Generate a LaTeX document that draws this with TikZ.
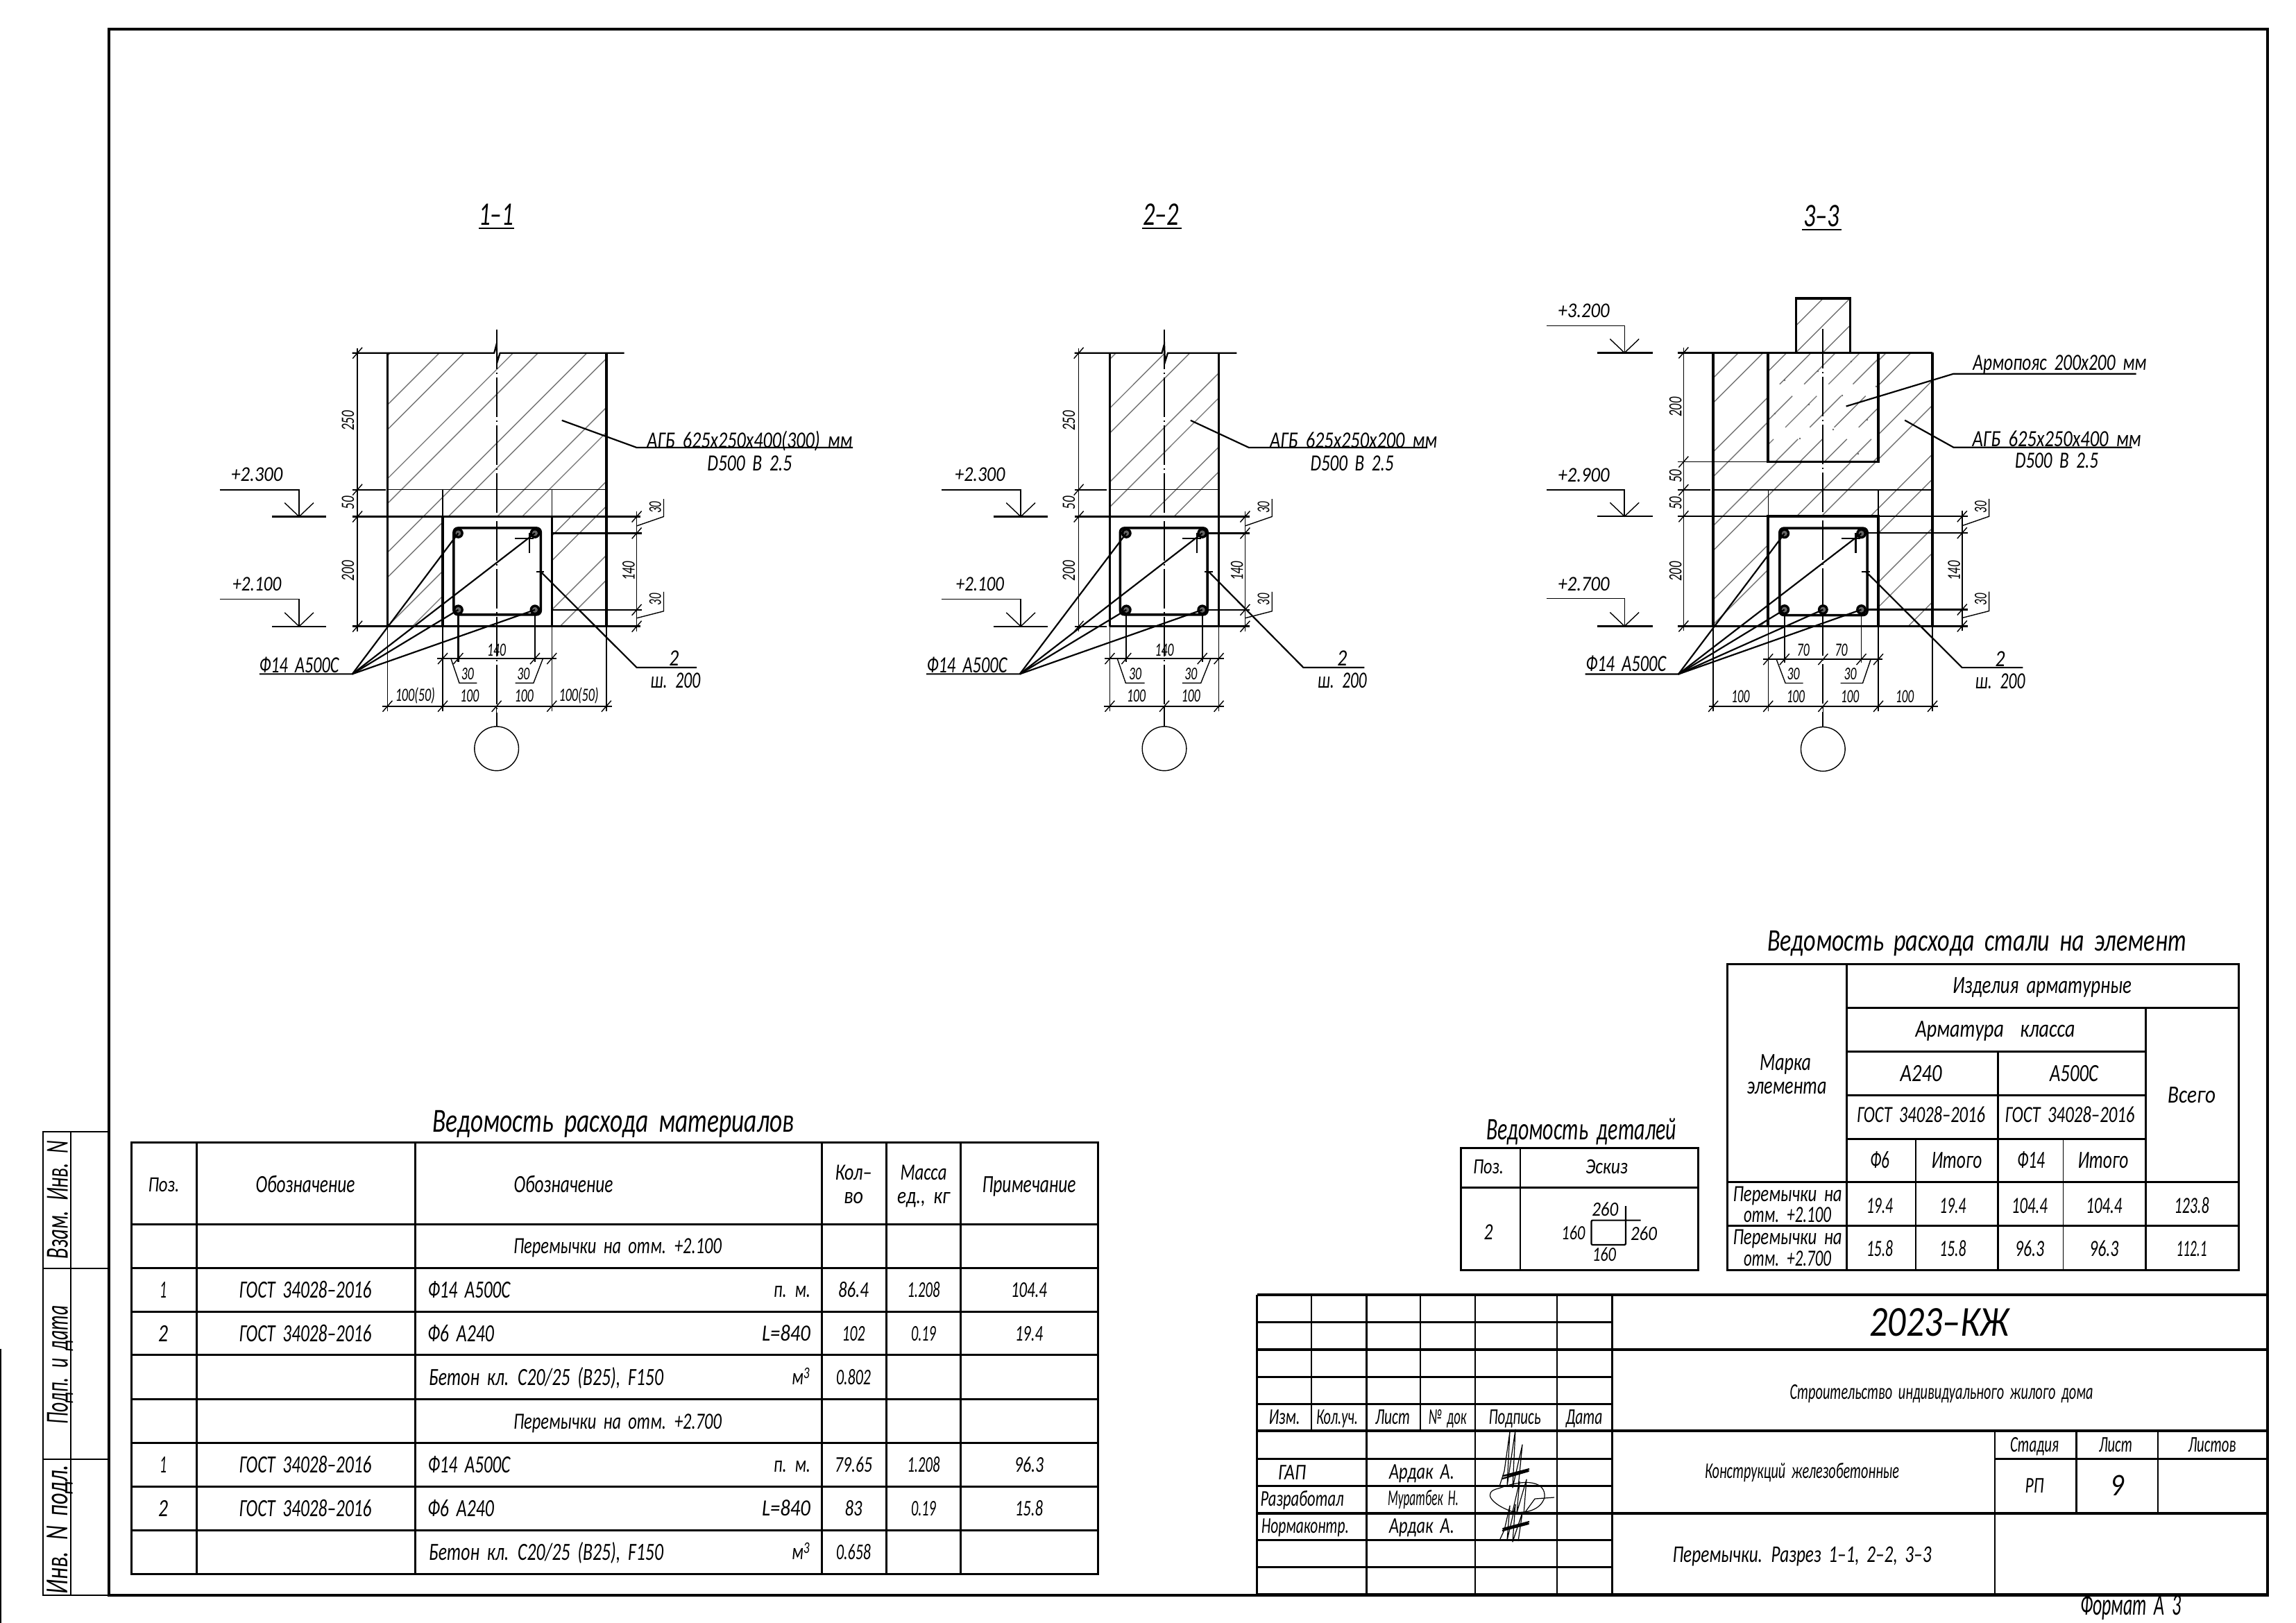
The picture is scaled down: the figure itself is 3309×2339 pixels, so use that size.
\documentclass[tikz,border=0pt]{standalone}
\usepackage{fontspec}
\usepackage{graphicx}
\setmainfont{Carlito}
\newsavebox\tbx
\newcounter{tnn}
\newcommand\mkfit[3]{\pgfmathsetmacro\fsz{#1*1.08}\sbox\tbx{\fontsize{\fsz}{\fsz}\selectfont\itshape\spaceskip=.42em\relax #3}\pgfmathsetmacro\fr{#2/\the\wd\tbx}\scalebox{\fr}[1]{\usebox\tbx}}
\newcommand\tw[5]{\stepcounter{tnn}\node[anchor=base,inner sep=0pt] (t\arabic{tnn}) at ({#1},{#2+0.34*#3}) {\mkfit{#3}{#4}{#5}};}
\newcommand\tr[5]{\stepcounter{tnn}\node[anchor=base,rotate=90,inner sep=0pt] (t\arabic{tnn}) at ({#1+0.34*#3},{#2}) {\mkfit{#3}{#4}{#5}};}
\tikzset{
 th/.style={line width=3.5pt},
 md/.style={line width=2.2pt},
 tn/.style={line width=1.4pt},
 tbl/.style={line width=3pt},
 tbs/.style={line width=1.8pt},
 hatchln/.style={line width=1.4pt,color=black!55},
 hatchbr/.style={line width=1.4pt,color=black!55,dash pattern=on 64pt off 24pt},
 cl/.style={line width=2pt,dash pattern=on 57pt off 5pt on 2pt off 5pt},
 sig/.style={line width=1.2pt,line join=round}
}
\newcommand\tk[2]{\draw[tn] ({#1-7},{#2+8})--({#1+7},{#2-8});}
% hatch in pairs, 45 degrees: ytop, ybot, x reference at ytop
\newcommand\hatchin[3]{\foreach \i in {-9,...,9}{\draw[hatchln] ({#3+107*\i},#1)--({#3+107*\i-(#2-#1)},#2);\draw[hatchln] ({#3+36+107*\i},#1)--({#3+36+107*\i-(#2-#1)},#2);}}
% regular hatch: style ytop ybot xref spacing
\newcommand\hatchreg[5]{\foreach \i in {-12,...,12}{\draw[#1] ({#4+#5*\i},#2)--({#4+#5*\i-(#3-#2)},#3);}}
% level mark: xl xr xbl xbr ytop ybot style
\newcommand\lev[7]{\draw[#7] (#1,#5)--(#2,#5)--(#2,#6);\draw[md] (#3,#6)--(#4,#6);\draw[tn] ({#2-21},{#6-20})--(#2,#6)--({#2+21},{#6-20});}
\newcommand\reb[2]{\fill[black] (#1,#2) circle (7.5);\fill[black!60] (#1,#2) circle (4);}
% right dimension group: xd xs xe
\newcommand\rdim[3]{\draw[tn] (#1,738)--(#1,912);\foreach \yy in {746,770,881,905}{\tk{#1}{\yy}}
 \draw[md] (#2,770)--(#3,770);\draw[md] (#2,881)--(#3,881);
 \draw[tn] (#1,759.5)--({#1+39},746)--({#1+39},720.5);\draw[tn] (#1,893)--({#1+39},883)--({#1+39},855);
 \tr{#1+27}{732.6}{24}{17}{30}\tr{#1+27}{866}{24}{17}{30}\tr{#1-11.5}{824.6}{25}{28}{140}}
% stirrup: xl xr yt yb rx2
\newcommand\stir[5]{\draw[th,rounded corners=6pt] (#1,#3) rectangle (#2,#4);
 \draw[md] ({#5-29},778)--({#5-2},778);\draw[md] ({#5-8},770)--({#5-8},799);}
\begin{document}
\begin{tikzpicture}[x=1pt,y=-1pt]
\useasboundingbox (0,0) rectangle (3309,2339);
\fill[white] (0,0) rectangle (3309,2339);
% frame
\draw[th] (157,42) rectangle (3268,2299);
\draw[tn] (1,1944)--(1,2339);
\draw[md] (157,1631)--(62,1631)--(62,2299)--(157,2299);
\draw[tn] (102,1631)--(102,2299);
\draw[md] (62,1828)--(157,1828);
\draw[tn] (62,2103)--(157,2103);
\tr{83}{1729}{43}{171}{Взам. Инв. N}
\tr{83}{1967}{43}{171}{Подп. и дата}
\tr{83}{2204}{43}{186}{Инв. N подл.}
% titles
\tw{715}{310}{44}{50}{1--1}\draw[md] (690,329)--(741,329);
\tw{1673}{310}{44}{52}{2--2}\draw[md] (1646,329)--(1703,329);
\tw{2625}{312}{44}{52}{3--3}\draw[md] (2597,331)--(2654,331);

%% SECTION 1
\begin{scope}[x=.995pt,y=-.995pt,xshift=1.25pt,yshift=-2.25pt]
\begin{scope}[even odd rule]
 \clip (560,509) rectangle (877,905) (640,746) rectangle (798,905);
 \hatchin{509}{905}{635}
\end{scope}
\draw[th] (560,509)--(560,905);\draw[th] (877,509)--(877,905);
\draw[md] (509,509)--(714.5,509)--(718,496)--(719,522)--(723,509)--(903,509);
\draw[md] (509,707)--(558,707);\draw[tn] (560,707)--(877,707);
\draw[md] (509,746)--(926,746);\draw[th] (509,905)--(926,905);
\draw[th] (640,746) rectangle (798,905);
\draw[tn] (640,707)--(640,746);\draw[tn] (798,707)--(798,746);
\draw[tn] (516.5,502)--(516.5,912);
\foreach \yy in {509,707,746,905}{\tk{516.5}{\yy}}
\foreach \xx in {560,640,798,877}{\draw[tn] (\xx,905)--(\xx,1028);}
\draw[cl] (718,475)--(718,1050);
\draw[tn] (718,1020)--(718,1050);
\draw[md] (553,1020.6)--(885,1020.6);
\foreach \xx in {560,640,718,798,877}{\tk{\xx}{1020.6}}
\draw[md] (632,951.6)--(805,951.6);
\foreach \xx in {640,662.5,773.6,798}{\tk{\xx}{951.6}}
\draw[md] (662.5,881)--(662.5,957);\draw[tn] (773.6,881)--(773.6,957);
\rdim{921}{798}{928}
\stir{656}{782}{762.5}{888}{773.6}
\foreach \xx in {662.5,773.6}{\foreach \yy in {770,881}{\reb{\xx}{\yy}}}
\draw[md] (374.5,974)--(509,974)--(662.5,770);
\draw[md] (509,974)--(773.6,770);\draw[md] (509,974)--(662.5,881);\draw[md] (509,974)--(773.6,881);
\draw[md] (776,825.5)--(787,825.5);\draw[md] (781.6,825.5)--(921,964.6)--(1008,964.6);
\draw[md] (812.6,606.6)--(921,646)--(1234,646);
\draw[tn] (652,952)--(664,987)--(689.5,987);\draw[tn] (785,952)--(771.5,987)--(745,987);
\draw[tn] (718,1082) circle (32);
\lev{317}{432}{393}{471}{707}{746}{md}
\lev{317}{432}{393}{471}{865.4}{905}{tn}
\tw{371}{685.5}{28}{74}{+2.300}\tw{371}{844}{28}{70}{+2.100}
\tw{1084.5}{636}{31}{296}{АГБ 625х250х400(300) мм}\tw{1084.5}{669}{31}{122}{D500 В 2.5}
\tw{432}{961.4}{31}{115}{Ф14 А500С}
\tw{975}{951.6}{31}{14}{2}\tw{977}{984}{31}{72}{ш. 200}
\tw{718}{939}{25}{27}{140}\tw{676}{974}{24}{18}{30}\tw{757}{974}{24}{18}{30}
\tw{600}{1005}{25}{57}{100(50)}\tw{679}{1006}{25}{27}{100}\tw{758}{1006}{25}{27}{100}\tw{837}{1005}{25}{57}{100(50)}
\tr{503}{607}{25}{29}{250}\tr{503}{726}{25}{19}{50}\tr{503}{824.6}{25}{29}{200}
\end{scope}

%% SECTION 2
\begin{scope}[x=.9947pt,y=-.995pt,xshift=6.9pt,yshift=-2.25pt]
\begin{scope}
 \clip (1601,509) rectangle (1759,746);
 \hatchin{509}{746}{1681}
\end{scope}
\draw[th] (1601,509)--(1601,905);\draw[th] (1759,509)--(1759,905);
\draw[md] (1550,509)--(1676.5,509)--(1680,496)--(1681,522)--(1685,509)--(1785,509);
\draw[md] (1550,707)--(1597,707);\draw[tn] (1601,707)--(1759,707);
\draw[md] (1550,746)--(1804,746);
\draw[md] (1550,905)--(1597,905);\draw[th] (1601,905)--(1804,905);
\draw[tn] (1556,502)--(1556,912);
\foreach \yy in {509,707,746,905}{\tk{1556}{\yy}}
\foreach \xx in {1601,1759}{\draw[tn] (\xx,905)--(\xx,1028);}
\draw[cl] (1680,475)--(1680,1050);
\draw[tn] (1680,1020)--(1680,1050);
\draw[md] (1593,1020.6)--(1766,1020.6);
\foreach \xx in {1601,1680,1759}{\tk{\xx}{1020.6}}
\draw[md] (1594,951.6)--(1766,951.6);
\foreach \xx in {1601,1625,1735,1759}{\tk{\xx}{951.6}}
\draw[md] (1625,881)--(1625,957);\draw[md] (1735,881)--(1735,957);
\rdim{1797}{1742}{1804}
\stir{1616}{1742.5}{762.5}{888}{1735}
\foreach \xx in {1625,1735}{\foreach \yy in {770,881}{\reb{\xx}{\yy}}}
\draw[md] (1335.4,974)--(1470.6,974)--(1625,770);
\draw[md] (1470.6,974)--(1735,770);\draw[md] (1470.6,974)--(1625,881);\draw[md] (1470.6,974)--(1735,881);
\draw[md] (1738,825.5)--(1750,825.5);\draw[md] (1744,825.5)--(1881.5,964.6)--(1970,964.6);
\draw[md] (1718,606.6)--(1802.5,646)--(2061,646);
\draw[tn] (1612,952)--(1624,987)--(1651.5,987);\draw[tn] (1747,952)--(1733,987)--(1706,987);
\draw[tn] (1680,1082) circle (32);
\lev{1357}{1472}{1432.4}{1511.5}{707}{746}{md}
\lev{1357}{1472}{1432.4}{1511.5}{865.4}{905}{tn}
\tw{1413}{685.5}{28}{72}{+2.300}\tw{1413}{844}{28}{69}{+2.100}
\tw{1954}{636}{31}{241}{АГБ 625х250х200 мм}\tw{1952}{669}{31}{120}{D500 В 2.5}
\tw{1394}{961.4}{31}{116}{Ф14 А500С}
\tw{1937.6}{951.6}{31}{14}{2}\tw{1937.6}{984}{31}{71}{ш. 200}
\tw{1680}{939}{25}{27}{140}\tw{1638}{974}{24}{18}{30}\tw{1718.5}{974}{24}{18}{30}
\tw{1639.5}{1006}{25}{27}{100}\tw{1718.5}{1006}{25}{27}{100}
\tr{1542}{607}{25}{29}{250}\tr{1542}{726}{25}{19}{50}\tr{1542}{824.6}{25}{29}{200}
\end{scope}

%% SECTION 3
\begin{scope}[x=.9949pt,y=-.9949pt,xshift=11.2pt,yshift=-2.04pt]
\begin{scope}[even odd rule]
 \clip (2470.5,509) rectangle (2788,905) (2550,509) rectangle (2709.6,667) (2550,746) rectangle (2709.6,905);
 \hatchin{509}{905}{2614}
\end{scope}
\begin{scope}
 \clip (2550,509) rectangle (2709.6,667);
 \hatchreg{hatchbr}{509}{667}{2683}{35.4}
\end{scope}
\begin{scope}
 \clip (2590.4,430) rectangle (2669,509);
 \hatchreg{hatchln}{430}{509}{2630}{39}
\end{scope}
\draw[th] (2590.4,509)--(2590.4,430)--(2669,430)--(2669,509);
\draw[th] (2419,509)--(2788,509);
\draw[th] (2470.5,509)--(2470.5,905);\draw[th] (2788,509)--(2788,905);
\draw[th] (2550,509) rectangle (2709.6,667);
\draw[tn] (2419,667)--(2550,667);
\draw[md] (2419,707.7)--(2466,707.7);\draw[tn] (2470,707.7)--(2788,707.7);
\draw[md] (2419,746)--(2839,746);\draw[th] (2419,905)--(2839,905);
\draw[th] (2550,746) rectangle (2709.6,905);
\draw[tn] (2550,707.7)--(2550,746);\draw[tn] (2709.6,707.7)--(2709.6,746);
\draw[tn] (2427.5,502)--(2427.5,912);
\foreach \yy in {509,667,707.7,746,905}{\tk{2427.5}{\yy}}
\foreach \xx in {2470.5,2550,2709.6,2788}{\draw[tn] (\xx,905)--(\xx,1028);}
\draw[cl] (2629.5,474.5)--(2629.5,1051);
\draw[tn] (2629.5,1021)--(2629.5,1051);
\draw[md] (2464,1021)--(2796,1021);
\foreach \xx in {2470.5,2550,2629.5,2709.6,2788}{\tk{\xx}{1021}}
\draw[md] (2543,953)--(2716,953);
\foreach \xx in {2550,2573.7,2629.5,2685,2709.6}{\tk{\xx}{953}}
\draw[tn] (2573.7,881)--(2573.7,958);\draw[tn] (2685,881)--(2685,958);
\rdim{2831}{2693.6}{2839}
\stir{2566.7}{2693.6}{763}{889}{2685}
\reb{2573.7}{770.7}\reb{2685}{770.7}\reb{2573.7}{881}\reb{2629.5}{881}\reb{2685}{881}
\draw[md] (2285,974.5)--(2420,974.5)--(2573.7,770.7);
\draw[md] (2420,974.5)--(2685,770.7);\draw[md] (2420,974.5)--(2573.7,881);\draw[md] (2420,974.5)--(2629.5,881);\draw[md] (2420,974.5)--(2685,881);
\draw[md] (2685,826.4)--(2698,826.4);\draw[md] (2692,826.4)--(2831,965)--(2919,965);
\draw[md] (2663,586.5)--(2818.6,539.4)--(3083,539.4);
\draw[md] (2748,606.7)--(2818.6,646)--(3077,646);
\draw[tn] (2562,953)--(2575,987.5)--(2600.6,987.5);\draw[tn] (2698.7,953)--(2687,987.5)--(2655,987.5);
\draw[tn] (2629.5,1083) circle (32);
\lev{2229}{2342}{2302.6}{2382.7}{469.7}{509}{tn}
\lev{2229}{2342}{2302.6}{2382.7}{707.7}{746}{md}
\lev{2229}{2342}{2302.6}{2382.7}{865}{905}{tn}
\tw{2283}{448}{28}{74}{+3.200}\tw{2283}{686}{28}{74}{+2.900}\tw{2283}{844.7}{28}{74}{+2.700}
\tw{2972.4}{524}{31}{250}{Армопояс 200х200 мм}
\tw{2968}{634}{31}{243}{АГБ 625х250х400 мм}\tw{2968}{665.4}{31}{120}{D500 В 2.5}
\tw{2344}{960}{31}{116}{Ф14 А500С}
\tw{2886}{953}{31}{14}{2}\tw{2886}{985}{31}{72}{ш. 200}
\tw{2601}{940}{25}{18}{70}\tw{2656}{940}{25}{18}{70}\tw{2586.5}{974.5}{24}{18}{30}\tw{2669}{974.5}{24}{18}{30}
\tw{2510}{1006.7}{25}{26}{100}\tw{2590}{1006.7}{25}{26}{100}\tw{2668.6}{1006.7}{25}{26}{100}\tw{2748}{1006.7}{25}{26}{100}
\tr{2416}{587.5}{25}{28}{200}\tr{2416}{687.5}{25}{19}{50}\tr{2416}{727}{25}{19}{50}\tr{2416}{825.5}{25}{28}{200}
\end{scope}
% aggregate specks in the concrete belt
\foreach \xx/\yy in {2668/521,2620/535,2572/548,2704/557,2655/570,2607/583,2558/596,2691/605,2642/619,2594/632,2678/654}{\fill[black!60] (\xx,\yy) circle (1.4);}

%% MATERIALS TABLE
\tw{884}{1616}{45}{521}{Ведомость расхода материалов}
\draw[tbl] (189,1646) rectangle (1582.5,2268);
\foreach \xx in {283,598,1184,1277,1384}{\draw[tbl] (\xx,1646)--(\xx,2268);}
\foreach \yy in {1764,1827,1890,1952.5,2016,2079,2142,2205}{\draw[tbl] (189,\yy)--(1582.5,\yy);}
\tw{236}{1708}{29}{45}{Поз.}\tw{440}{1707}{33}{143}{Обозначение}\tw{812}{1707}{33}{143}{Обозначение}
\tw{1230}{1690}{31}{53}{Кол–}\tw{1230}{1724}{31}{28}{во}
\tw{1331}{1690}{31}{67}{Масса}\tw{1331}{1724}{31}{76}{ед., кг}
\tw{1483}{1707}{33}{135}{Примечание}
\tw{890}{1796}{31}{300}{Перемычки на отм. +2.100}
\tw{890}{2049}{31}{300}{Перемычки на отм. +2.700}
\foreach \yr/\pa/\qa/\ma/\ta/\wa/\qb/\wb/\mb/\tb/\qc in {0/86.4/44/1.208/104.4/52/102/33/0.19/19.4/0.802,252/79.65/54/1.208/96.3/42/83/25/0.19/15.8/0.658}{
 \pgfmathsetmacro\ya{1859+\yr}\pgfmathsetmacro\yb{1922+\yr}\pgfmathsetmacro\yc{1985+\yr}
 \tw{235}{\ya}{33}{10}{1}\tw{235}{\yb}{33}{14}{2}
 \tw{440}{\ya}{33}{191}{ГОСТ 34028–2016}\tw{440}{\yb}{33}{191}{ГОСТ 34028–2016}
 \tw{676}{\ya}{33}{119}{Ф14 А500С}\tw{664}{\yb}{33}{96}{Ф6 А240}
 \tw{787}{\yc}{33}{338}{Бетон кл. C20/25 (B25), F150}
 \tw{1141.5}{\ya}{31}{53}{п. м.}\tw{1133}{\yb}{31}{70}{L=840}
 \tw{1154}{\yc}{31}{26}{м\textsuperscript{3}}
 \tw{1230}{\ya}{30}{\qa}{\pa}\tw{1230}{\yb}{30}{\wb}{\qb}\tw{1230}{\yc}{30}{50}{\qc}
 \tw{1331}{\ya}{30}{47}{\ma}\tw{1331}{\yb}{30}{36}{\mb}
 \tw{1483}{\ya}{30}{\wa}{\ta}\tw{1483}{\yb}{30}{40}{\tb}
}

%% DETAILS TABLE
\tw{2279}{1628}{42}{274}{Ведомость деталей}
\draw[tbl] (2105,1654.7) rectangle (2447,1830);
\draw[tbs] (2191,1654.7)--(2191,1830);
\draw[tbl] (2105,1711.5)--(2447,1711.5);
\tw{2145}{1682}{29}{44}{Поз.}\tw{2315.6}{1682}{29}{61}{Эскиз}\tw{2145}{1776}{31}{13}{2}
\draw[md,rounded corners=2pt] (2364.6,1758.6)--(2293.4,1758.6)--(2293.4,1794)--(2343,1794)--(2343,1738);
\tw{2313.3}{1743}{27}{38}{260}\tw{2267.4}{1777}{27}{34}{160}\tw{2369}{1778}{27}{38}{260}\tw{2312}{1808.5}{27}{34}{160}

%% STEEL TABLE
\tw{2849}{1356}{42}{604}{Ведомость расхода стали на элемент}
\draw[tbl] (2489,1389) rectangle (3226,1830);
\draw[tbl] (2661.4,1389)--(2661.4,1830);
\draw[tbs] (2761,1641)--(2761,1830);
\draw[tbl] (2879.4,1515)--(2879.4,1830);
\draw[tbs] (2973.5,1641)--(2973.5,1830);
\draw[tbl] (3092,1452)--(3092,1830);
\draw[tbl] (2661.4,1452)--(3226,1452);
\draw[tbl] (2661.4,1515)--(3092,1515);
\draw[tbl] (2661.4,1578)--(3092,1578);
\draw[tbl] (2661.4,1641)--(3092,1641);
\draw[tbl] (2489,1703.6)--(3226,1703.6);
\draw[tbl] (2489,1766.5)--(3226,1766.5);
\tw{2943}{1420.5}{33}{258}{Изделия арматурные}
\tw{2875.6}{1483}{33}{230}{Арматура \ класса}
\tw{2573}{1531.6}{33}{74}{Марка}\tw{2575}{1565}{33}{115}{элемента}
\tw{2768.5}{1547}{33}{60}{А240}\tw{2989}{1547}{33}{70}{А500С}
\tw{2768.5}{1607}{31}{185}{ГОСТ 34028–2016}\tw{2983}{1607}{31}{187}{ГОСТ 34028–2016}
\tw{3158.6}{1578}{33}{69}{Всего}
\tw{2709}{1672.6}{33}{28}{Ф6}\tw{2820}{1672.6}{33}{73}{Итого}\tw{2927}{1672.6}{33}{40}{Ф14}\tw{3031}{1672.6}{33}{73}{Итого}
\tw{2576}{1720.8}{31}{157}{Перемычки на}\tw{2576}{1751}{31}{126}{отм. +2.100}
\tw{2576}{1782.7}{31}{157}{Перемычки на}\tw{2576}{1813.6}{31}{126}{отм. +2.700}
\tw{2709}{1738}{31}{38}{19.4}\tw{2814.4}{1738}{31}{38}{19.4}\tw{2925}{1738}{31}{52}{104.4}\tw{3032.4}{1738}{31}{52}{104.4}\tw{3158.6}{1738}{31}{50}{123.8}
\tw{2709}{1800}{31}{38}{15.8}\tw{2814.4}{1800}{31}{38}{15.8}\tw{2925}{1800}{31}{42}{96.3}\tw{3032.4}{1800}{31}{42}{96.3}\tw{3158.6}{1800}{31}{44}{112.1}

%% TITLE BLOCK
\foreach \yy in {1905.5,1984.3,2023.5,2102,2141,2219.6,2258.8}{\draw[tbl] (1811.5,\yy)--(2323.5,\yy);}
\foreach \yy in {1866,1944.7,2062.4,2180.7,2298}{\draw[line width=4pt] (1811.5,\yy)--(3267,\yy);}
\draw[md] (1811.5,1866)--(1811.5,2298);
\foreach \xx in {1969.4,2126,2244,2323.5}{\draw[md] (\xx,1866)--(\xx,2298);}
\foreach \xx in {1890,2047}{\draw[md] (\xx,1866)--(\xx,2062.4);}
\draw[md] (2874.7,2062.4)--(2874.7,2298);
\draw[md] (2992.4,2062.4)--(2992.4,2180.7);\draw[md] (3110,2062.4)--(3110,2180.7);
\draw[tbl] (2874.7,2102)--(3267,2102);
\tw{2795}{1906}{57}{201}{2023–КЖ}
\tw{2798}{2006}{30}{437}{Строительство индивидуального жилого дома}
\tw{1851}{2042}{30}{45}{Изм.}\tw{1927}{2042}{30}{60}{Кол.уч.}\tw{2007}{2042}{30}{50}{Лист}\tw{2086}{2042}{30}{55}{№ док}\tw{2183}{2042}{30}{75}{Подпись}\tw{2283}{2042}{30}{53}{Дата}
\tw{1862}{2122.5}{30}{40}{ГАП}\tw{2049}{2121}{30}{94}{Ардак А.}
\tw{1876.6}{2160.7}{30}{120}{Разработал}\tw{2051}{2159}{30}{102}{Муратбек Н.}
\tw{1881}{2199}{30}{126}{Нормаконтр.}\tw{2049}{2199}{30}{94}{Ардак А.}
\tw{2597}{2120}{30}{280}{Конструкций железобетонные}
\tw{2597}{2240.5}{32}{373}{Перемычки. Разрез 1--1, 2--2, 3--3}
\tw{2932}{2082}{30}{70}{Стадия}\tw{3049}{2082}{30}{48}{Лист}\tw{3188}{2082}{30}{69}{Листов}
\tw{2932}{2141}{30}{27}{РП}\tw{3051}{2141}{42}{20}{9}
\tw{3071}{2314}{41}{146}{Формат А 3}
% signatures
\draw[sig] (2161,2142)--(2168,2120)--(2176,2063)--(2172,2142)--(2184,2060)--(2180,2144)--(2194,2082)--(2188,2143);
\draw[sig,line width=2.2pt] (2165,2131)--(2203,2120)--(2166,2127)--(2204,2117);
\draw[sig] (2161,2220)--(2168,2205)--(2176,2170)--(2172,2220)--(2184,2168)--(2180,2222)--(2194,2180)--(2188,2221);
\draw[sig,line width=2.2pt] (2165,2206)--(2203,2196)--(2166,2203)--(2204,2193);
\draw[sig] (2178,2178) .. controls (2150,2168) and (2135,2150) .. (2160,2145) .. controls (2200,2130) and (2228,2135) .. (2226,2158) .. controls (2220,2178) and (2195,2182) .. (2178,2178);
\draw[sig] (2180,2178)--(2190,2135)--(2186,2180)--(2200,2132)--(2196,2182)--(2212,2160)--(2240,2158);
\end{tikzpicture}
\end{document}
